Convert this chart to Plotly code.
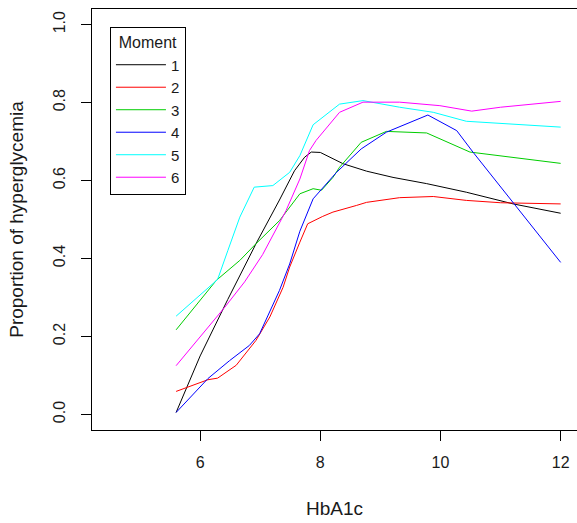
import plotly.graph_objects as go

# ---- data ----
moments = ["1", "2", "3", "4", "5", "6"]
colors = ["black", "#FF0000", "#00CD00", "#0000FF", "#00FFFF", "#FF00FF"]

x1 = [5.6, 6.0, 6.46, 6.93, 7.32, 7.57, 7.74, 7.85, 8.0, 8.38, 8.77, 9.21, 9.77, 10.43, 11.21, 12.0]
y1 = [0.005, 0.15, 0.295, 0.438, 0.55, 0.625, 0.66, 0.673, 0.672, 0.643, 0.624, 0.608, 0.592, 0.570, 0.540, 0.516]

x2 = [5.6, 6.13, 6.29, 6.6, 6.93, 7.16, 7.38, 7.49, 7.66, 7.79, 8.04, 8.21, 8.6, 8.77, 9.32, 9.88, 10.43, 11.0, 12.0]
y2 = [0.059, 0.089, 0.093, 0.126, 0.19, 0.25, 0.326, 0.378, 0.442, 0.489, 0.508, 0.519, 0.536, 0.544, 0.556, 0.559, 0.549, 0.543, 0.54]

x3 = [5.6, 5.99, 6.27, 6.66, 6.93, 7.32, 7.66, 7.88, 8.02, 8.21, 8.32, 8.68, 9.1, 9.77, 10.49, 12.0]
y3 = [0.217, 0.292, 0.344, 0.395, 0.438, 0.497, 0.566, 0.579, 0.575, 0.608, 0.634, 0.698, 0.726, 0.722, 0.673, 0.644]

x4 = [5.6, 6.13, 6.49, 6.82, 6.99, 7.32, 7.49, 7.66, 7.88, 8.27, 8.68, 9.1, 9.79, 10.27, 10.54, 11.21, 12.0]
y4 = [0.005, 0.092, 0.138, 0.177, 0.207, 0.318, 0.386, 0.47, 0.553, 0.621, 0.681, 0.724, 0.768, 0.728, 0.673, 0.544, 0.39]

x5 = [5.6, 5.9, 6.29, 6.46, 6.66, 6.9, 7.21, 7.49, 7.66, 7.88, 8.32, 8.71, 9.32, 9.88, 10.43, 12.0]
y5 = [0.252, 0.292, 0.346, 0.42, 0.506, 0.583, 0.587, 0.621, 0.664, 0.743, 0.796, 0.805, 0.788, 0.775, 0.752, 0.737]

x6 = [5.6, 6.0, 6.41, 6.74, 7.04, 7.43, 7.66, 7.82, 7.93, 8.32, 8.71, 9.32, 9.99, 10.52, 11.0, 12.0]
y6 = [0.125, 0.2, 0.275, 0.34, 0.41, 0.523, 0.604, 0.677, 0.703, 0.775, 0.801, 0.801, 0.792, 0.778, 0.788, 0.803]

xs = [x1, x2, x3, x4, x5, x6]
ys = [y1, y2, y3, y4, y5, y6]

x_ticks = [6, 8, 10, 12]
y_ticks = [0.0, 0.2, 0.4, 0.6, 0.8, 1.0]
y_ticklabels = ["0.0", "0.2", "0.4", "0.6", "0.8", "1.0"]

FONT = "Liberation Sans, Arial, sans-serif"
TXT = "#1a1a1a"

fig = go.Figure()
for name, c, xv, yv in zip(moments, colors, xs, ys):
    fig.add_trace(go.Scatter(x=xv, y=yv, mode="lines", name=name,
                             line=dict(color=c, width=1)))

fig.update_layout(
    width=577, height=523,
    margin=dict(l=92, r=0, t=9, b=93, autoexpand=False),
    paper_bgcolor="white", plot_bgcolor="white",
    font=dict(family=FONT, size=16, color=TXT),
    showlegend=True,
    legend=dict(
        x=0.037, y=0.958, xanchor="left", yanchor="top",
        bordercolor="black", borderwidth=1, bgcolor="white",
        font=dict(size=15, color=TXT),
        title=dict(text="Moment", side="top center", font=dict(size=16)),
        itemwidth=50,
    ),
)
fig.update_xaxes(
    range=[4.2, 12.272], tickvals=x_ticks, ticks="outside", ticklen=10,
    tickcolor="black", showline=True, linecolor="black", linewidth=1,
    mirror=True, showgrid=False, zeroline=False,
    ticklabelstandoff=8,
    title=dict(text="HbA1c", standoff=31), automargin=False,
)
fig.update_yaxes(
    range=[-0.04, 1.04], tickvals=y_ticks, ticktext=y_ticklabels,
    ticks="outside", ticklen=10, tickcolor="black", tickangle=-90,
    showline=True, linecolor="black", linewidth=1, mirror=False,
    showgrid=False, zeroline=False, ticklabelstandoff=10,
    title=dict(text="Proportion of hyperglycemia", standoff=21), automargin=False,
)

fig.write_html("out.html")
